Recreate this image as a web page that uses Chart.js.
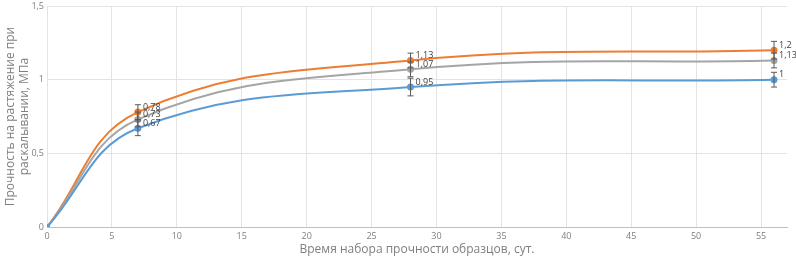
<!DOCTYPE html>
<html>
<head>
<meta charset="utf-8">
<script src="https://cdn.jsdelivr.net/npm/chart.js@4"></script>
<style>
  html, body { margin: 0; padding: 0; background: #fff; }
  #wrap { width: 796px; height: 265px; position: relative; }
</style>
</head>
<body>
<div id="wrap"><canvas id="chart1"></canvas></div>
<script>
// days of curing
const days = [0, 7, 28, 56];
// strength series, MPa
const orange_vals = [0, 0.78, 1.13, 1.2];
const gray_vals = [0, 0.73, 1.07, 1.13];
const blue_vals = [0, 0.67, 0.95, 1.0];
// error bar half-widths
const orange_err = [0, 0.05, 0.05, 0.06];
const gray_err = [0, 0.05, 0.05, 0.05];
const blue_err = [0, 0.05, 0.06, 0.05];
// point labels
const orange_labels = ["", "0,78", "1,13", "1,2"];
const gray_labels = ["", "0,73", "1,07", "1,13"];
const blue_labels = ["", "0,67", "0,95", "1"];

const x_title = "Время набора прочности образцов, сут.";
const y_title = ["Прочность на растяжение при", "раскалывании, МПа"];

function toPoints(vals) {
  return days.map((d, i) => ({ x: d, y: vals[i] }));
}

function series(vals, err, labels, color) {
  return {
    data: toPoints(vals),
    errors: err,
    pointLabels: labels,
    borderColor: color,
    backgroundColor: color,
    borderWidth: 2,
    pointRadius: days.map(d => d === 0 ? 2 : 2.5),
    tension: 0.4,
    fill: false
  };
}

// draws error bars and value labels via the chart's scales
const extras = {
  id: "extras",
  afterDatasetsDraw(chart) {
    const ctx = chart.ctx;
    const xs = chart.scales.x, ys = chart.scales.y;
    ctx.save();
    chart.data.datasets.forEach(ds => {
      ds.data.forEach((p, i) => {
        const e = ds.errors[i];
        if (!e) return;
        const px = xs.getPixelForValue(p.x);
        const top = ys.getPixelForValue(p.y + e);
        const bot = ys.getPixelForValue(p.y - e);
        ctx.strokeStyle = "#595959";
        ctx.lineWidth = 1;
        ctx.beginPath();
        ctx.moveTo(px, top); ctx.lineTo(px, bot);
        ctx.moveTo(px - 3, top); ctx.lineTo(px + 3, top);
        ctx.moveTo(px - 3, bot); ctx.lineTo(px + 3, bot);
        ctx.stroke();
      });
    });
    ctx.fillStyle = "#404040";
    ctx.font = "9px 'Open Sans', sans-serif";
    ctx.textBaseline = "middle";
    chart.data.datasets.forEach(ds => {
      ds.data.forEach((p, i) => {
        const t = ds.pointLabels[i];
        if (!t) return;
        ctx.fillText(t, xs.getPixelForValue(p.x) + 5, ys.getPixelForValue(p.y) - 5);
      });
    });
    ctx.restore();
  }
};

const ctx1 = document.getElementById("chart1").getContext("2d");

new Chart(ctx1, {
  type: "line",
  data: {
    datasets: [
      series(blue_vals, blue_err, blue_labels, "#5B9BD5"),
      series(gray_vals, gray_err, gray_labels, "#A5A5A5"),
      series(orange_vals, orange_err, orange_labels, "#ED7D31")
    ]
  },
  options: {
    responsive: true,
    maintainAspectRatio: false,
    animation: false,
    layout: { padding: { top: 0, right: 9, left: 3, bottom: 8 } },
    plugins: { legend: { display: false }, tooltip: { enabled: false } },
    scales: {
      x: {
        type: "linear",
        min: 0,
        max: 57,
        afterBuildTicks: axis => {
          axis.ticks = [0, 5, 10, 15, 20, 25, 30, 35, 40, 45, 50, 55].map(v => ({ value: v }));
        },
        grid: { color: "#e3e3e3", drawTicks: false },
        border: { color: "#bfbfbf" },
        ticks: { color: "#7f7f7f", font: { size: 9, family: "'Open Sans', sans-serif" }, padding: 4, maxRotation: 0 },
        title: { display: true, text: x_title, color: "#7f7f7f", font: { size: 12, family: "'Open Sans', sans-serif" }, padding: { top: 0, bottom: 0 } },
        afterFit: axis => { axis.height = 30; }
      },
      y: {
        min: 0,
        max: 1.5,
        ticks: {
          stepSize: 0.5,
          color: "#7f7f7f",
          font: { size: 9, family: "'Open Sans', sans-serif" },
          padding: 3,
          callback: v => String(v).replace(".", ",")
        },
        grid: { color: "#e3e3e3", drawTicks: false },
        border: { display: false },
        title: { display: true, text: y_title, color: "#7f7f7f", font: { size: 12, family: "'Open Sans', sans-serif", lineHeight: 1.2 }, padding: 0 },
        afterFit: axis => { axis.width = 44; axis.paddingTop = 5; }
      }
    }
  },
  plugins: [extras]
});
</script>
</body>
</html>
